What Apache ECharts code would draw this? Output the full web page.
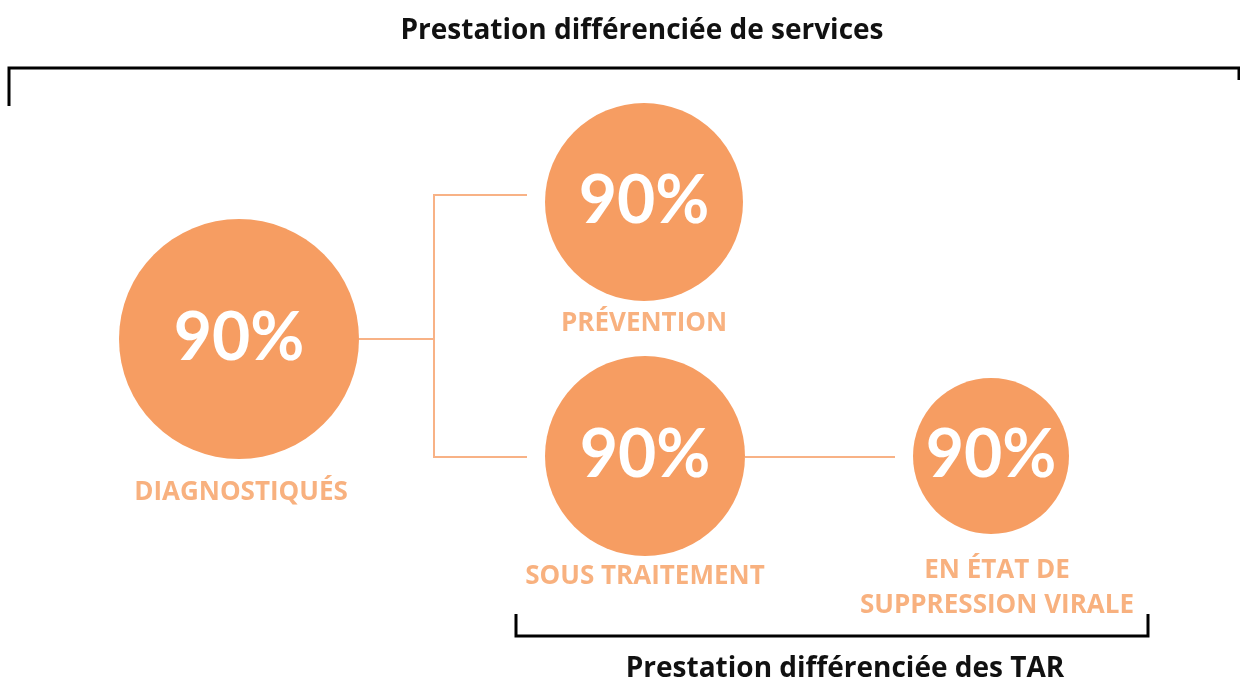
<!DOCTYPE html>
<html>
<head>
<meta charset="utf-8">
<script src="https://cdn.jsdelivr.net/npm/echarts@6/dist/echarts.min.js"></script>
<style>html,body{margin:0;padding:0;background:#fff}#c{width:1240px;height:684px}</style>
</head>
<body>
<div id="c"></div>
<script>
// ---- data ----
const categories = ['DIAGNOSTIQUÉS', 'PRÉVENTION', 'SOUS TRAITEMENT', 'EN ÉTAT DE\nSUPPRESSION VIRALE'];
const values = [90, 90, 90, 90];
const links = [[0, 1], [0, 2], [2, 3]];
const topTitle = 'Prestation différenciée de services';
const bottomTitle = 'Prestation différenciée des TAR';

// ---- layout (positions / sizes) ----
const nodeX = [239, 644, 645, 991];
const nodeY = [339, 202, 456, 456];
const nodeR = [120, 99, 100, 78];
const linkY = [339, 195, 457, 457];
const labelY = [493, 324, 577, 588];
const labelX = [241, 644, 645, 997];
const elbowX = 434;
const gap = 18;

const ORANGE = '#F69D62';
const LABEL = '#F69E5F';
const LINK = '#F8B286';

const circleData = categories.map((c, i) => ({
  name: c, value: [nodeX[i], nodeY[i], values[i]], symbolSize: nodeR[i] * 2
}));
const labelData = categories.map((c, i) => ({ name: c, value: [labelX[i], labelY[i]] }));

const linkData = links.map(([s, t]) => {
  const x0 = nodeX[s] + nodeR[s];
  const x1 = nodeX[t] - nodeR[t] - gap;
  if (linkY[s] === linkY[t]) {
    return { coords: [[x0, linkY[s]], [x1, linkY[t]]] };
  }
  return { coords: [[x0, linkY[s]], [elbowX, linkY[s]], [elbowX, linkY[t]], [x1, linkY[t]]] };
});

const bracketData = [
  { coords: [[9, 106], [9, 68], [1239, 68], [1239, 80]] },
  { coords: [[516, 614], [516, 636], [1148, 636], [1148, 614]] }
];

const chart = echarts.init(document.getElementById('c'), null, { renderer: 'canvas' });
chart.setOption({
  animation: false,
  title: [
    { text: topTitle, left: 637, top: 12, textAlign: 'center',
      textStyle: { fontFamily: 'Open Sans', fontWeight: 'bold', fontSize: 28, color: '#111' } },
    { text: bottomTitle, left: 840, top: 650, textAlign: 'center',
      textStyle: { fontFamily: 'Open Sans', fontWeight: 'bold', fontSize: 28, color: '#111' } }
  ],
  grid: { left: 0, right: 0, top: 0, bottom: 0 },
  xAxis: { type: 'value', min: 0, max: 1240, show: false },
  yAxis: { type: 'value', min: 0, max: 684, inverse: true, show: false },
  series: [
    { type: 'lines', coordinateSystem: 'cartesian2d', polyline: true, z: 1,
      lineStyle: { color: LINK, width: 2, opacity: 1 }, data: linkData },
    { type: 'lines', coordinateSystem: 'cartesian2d', polyline: true, z: 1,
      lineStyle: { color: '#000', width: 3, opacity: 1, join: 'miter', cap: 'butt' }, data: bracketData },
    { type: 'scatter', z: 3, symbol: 'circle', data: circleData,
      itemStyle: { color: ORANGE, opacity: 1 },
      label: { show: true, position: 'inside', formatter: p => p.value[2] + '%',
        fontFamily: 'Lato', fontWeight: 'bold', fontSize: 66, color: '#fff' } },
    { type: 'scatter', z: 3, symbolSize: 0, data: labelData,
      label: { show: true, position: 'inside', formatter: p => p.name,
        fontFamily: 'Open Sans', fontWeight: 'bold', fontSize: 26, lineHeight: 35, color: LABEL } }
  ]
});
</script>
</body>
</html>
